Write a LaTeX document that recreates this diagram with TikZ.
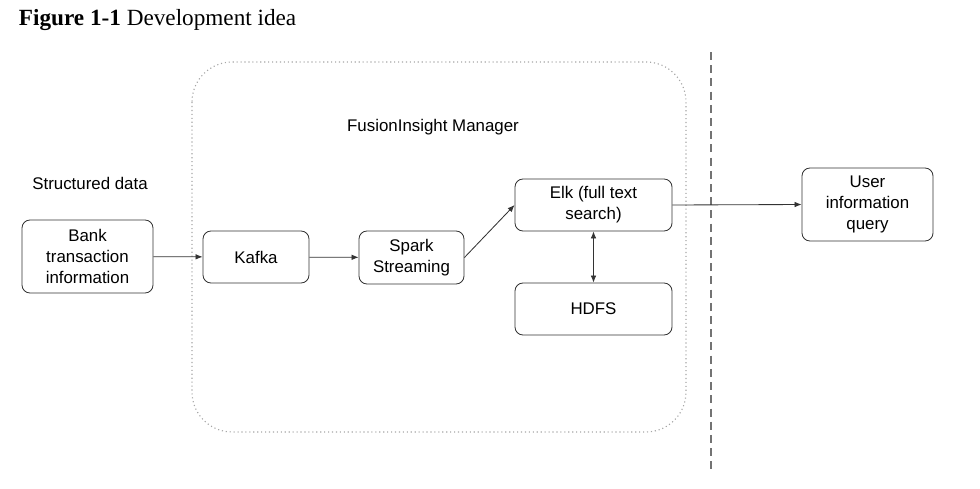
\documentclass[tikz,border=0pt]{standalone}
\usepackage{fontspec}
\setmainfont{Liberation Serif}
\setsansfont{Liberation Sans}
\usepackage{tikz}
\usetikzlibrary{arrows, arrows.meta}
\tikzset{flow/.style={-{Latex[length=5pt,width=4pt]}, semithick, black!80}}

\begin{document}
\begin{tikzpicture}[x=0.025cm, y=-0.025cm]
\useasboundingbox (0,0) rectangle (980,488);
\node[anchor=west, font=\fontsize{16.5}{19}\selectfont] (title) at (14,20) {\textbf{Figure 1-1} Development idea};
\draw[gray!70, dotted, thick, rounded corners=1cm] (192,62) rectangle (686,432);
\draw[gray!90!black, dash pattern=on 0.2cm off 0.13cm, thick] (711,52) -- (711,470);
\begin{scope}[every node/.style={font=\sffamily\fontsize{12}{15}\selectfont, align=center}]
   \node (mgr) at (433,127) {FusionInsight Manager};
   \node (src) at (90,183) {Structured data};
\end{scope}
\begin{scope}[every node/.style={draw=black!80, semithick, rounded corners=0.2cm, align=center, inner sep=1pt, font=\sffamily\fontsize{12}{15}\selectfont}]
   \node[minimum width=3.275cm, minimum height=1.825cm] (bank) at (87.5,256.5) {Bank\\transaction\\information};
   \node[minimum width=2.65cm, minimum height=1.3cm] (kafka) at (256,257) {Kafka};
   \node[minimum width=2.625cm, minimum height=1.325cm] (spark) at (411.5,257.5) {Spark\\Streaming};
   \node[minimum width=3.925cm, minimum height=1.3cm] (elk) at (593.5,205) {Elk (full text\\search)};
   \node[minimum width=3.925cm, minimum height=1.3cm] (hdfs) at (593.5,309) {HDFS};
   \node[minimum width=3.275cm, minimum height=1.825cm] (user) at (867.5,204.5) {User\\information\\query};
\end{scope}
\draw[flow] (bank)--(kafka);
\draw[flow] (kafka)--(spark);
\draw[flow] (spark.east)--(elk.west);
\draw[flow, {Latex[length=5pt,width=4pt]}-{Latex[length=5pt,width=4pt]}] (elk)--(hdfs);
\draw[flow] (elk.east)--(user.west);
\end{tikzpicture}
\end{document}
